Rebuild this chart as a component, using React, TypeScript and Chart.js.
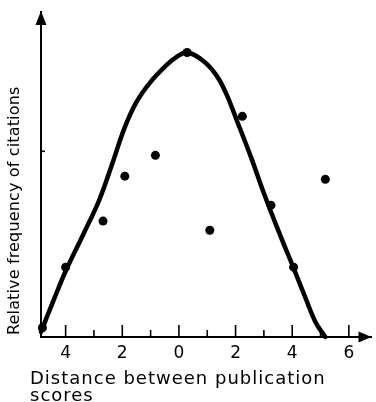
import { useEffect, useRef } from 'react';
import { Chart, registerables } from 'chart.js';

Chart.register(...registerables);

// Observed points (distance, relative frequency)
const observedX = [-4.82, -4.0, -2.68, -1.91, -0.83, 0.29, 1.09, 2.24, 3.25, 4.05, 5.17];
const observedY = [0.05, 0.376, 0.624, 0.866, 0.978, 1.532, 0.575, 1.188, 0.71, 0.376, 0.849];

// Fitted curve
const curveX = [-4.87, -4.42, -3.97, -3.37, -2.82, -2.36, -1.91, -1.5, -1.02, -0.45, -0.08, 0.28, 0.84, 1.3, 1.65, 2.07, 2.56, 3.04, 3.56, 4.05, 4.47, 4.82, 5.17];
const curveY = [0.027, 0.2, 0.365, 0.555, 0.735, 0.93, 1.13, 1.265, 1.37, 1.462, 1.508, 1.532, 1.489, 1.414, 1.317, 1.156, 0.962, 0.758, 0.554, 0.371, 0.21, 0.081, 0];

const yTickValues = [1];
const xTitleLines = ['Distance between publication', 'scores'];
const yTitle = 'Relative frequency of citations';

const FONT = '"DejaVu Sans", sans-serif';

const decor = {
  id: 'decor',
  afterDraw(chart: any) {
    const { ctx, chartArea: a, scales } = chart;
    const x = scales.x;
    const y = scales.y;
    ctx.save();
    ctx.fillStyle = '#000';
    ctx.strokeStyle = '#000';
    ctx.lineWidth = 1.6;
    // inward x tick marks
    x.ticks.forEach((t: any) => {
      const v = t.value;
      if (Math.abs(v - Math.round(v)) > 1e-6) return;
      const px = x.getPixelForValue(v);
      const len = Math.round(v) % 2 === 0 ? 12 : 7;
      ctx.beginPath();
      ctx.moveTo(px, a.bottom);
      ctx.lineTo(px, a.bottom - len);
      ctx.stroke();
    });
    // inward y tick marks
    yTickValues.forEach((v) => {
      const py = y.getPixelForValue(v);
      ctx.beginPath();
      ctx.moveTo(a.left, py);
      ctx.lineTo(a.left + 4, py);
      ctx.stroke();
    });
    // arrowheads
    ctx.beginPath();
    ctx.moveTo(a.left, a.top - 1);
    ctx.lineTo(a.left - 5.5, a.top + 13);
    ctx.lineTo(a.left + 5.5, a.top + 13);
    ctx.closePath();
    ctx.fill();
    ctx.beginPath();
    ctx.moveTo(a.right, a.bottom);
    ctx.lineTo(a.right - 13, a.bottom - 5.5);
    ctx.lineTo(a.right - 13, a.bottom + 5.5);
    ctx.closePath();
    ctx.fill();
    // axis titles
    ctx.font = '18px ' + FONT;
    (ctx as any).letterSpacing = '1px';
    ctx.textAlign = 'left';
    ctx.textBaseline = 'middle';
    ctx.fillText(xTitleLines[0], a.left - 11, a.bottom + 42);
    ctx.fillText(xTitleLines[1], a.left - 11, a.bottom + 59);
    ctx.font = '16px ' + FONT;
    (ctx as any).letterSpacing = '0.15px';
    ctx.translate(15, a.bottom - 2);
    ctx.rotate(-Math.PI / 2);
    ctx.fillText(yTitle, 0, 0);
    (ctx as any).letterSpacing = '0px';
    ctx.restore();
  },
};

export default function App() {
  const ref = useRef<HTMLCanvasElement>(null);
  useEffect(() => {
    if (!ref.current) return;
    const chart = new Chart(ref.current, {
      type: 'scatter',
      data: {
        datasets: [
          {
            label: 'curve',
            data: curveX.map((v, i) => ({ x: v, y: curveY[i] })),
            showLine: true,
            borderColor: '#000',
            borderWidth: 4.5,
            pointRadius: 0,
            tension: 0.4,
            borderCapStyle: 'round',
            borderJoinStyle: 'round',
            clip: false,
          } as any,
          {
            label: 'observed',
            data: observedX.map((v, i) => ({ x: v, y: observedY[i] })),
            showLine: false,
            backgroundColor: '#000',
            borderColor: '#000',
            pointRadius: 4.5,
            pointBorderWidth: 0,
            clip: false,
          } as any,
        ],
      },
      options: {
        animation: false,
        responsive: false,
        layout: { padding: { top: 12, left: 0, right: 0, bottom: 0 } },
        plugins: { legend: { display: false }, tooltip: { enabled: false } },
        scales: {
          x: {
            type: 'linear',
            min: -4.87,
            max: 6.8,
            afterFit: (s: any) => { s.height = 65; },
            grid: { display: false, drawTicks: false },
            border: { display: true, color: '#000', width: 2 },
            ticks: {
              stepSize: 1,
              includeBounds: false,
              autoSkip: false,
              maxRotation: 0,
              padding: 6,
              color: '#000',
              font: { family: FONT, size: 17 },
              callback: (v: any) => {
                const n = Number(v);
                return Number.isInteger(n) && n % 2 === 0 ? String(Math.abs(n)) : '';
              },
            },
          },
          y: {
            type: 'linear',
            min: 0,
            max: 1.75,
            afterFit: (s: any) => { s.width = 41; },
            grid: { display: false, drawTicks: false },
            border: { display: true, color: '#000', width: 2 },
            ticks: { display: false },
          },
        },
      },
      plugins: [decor],
    });
    return () => chart.destroy();
  }, []);
  return (
    <div style={{ position: 'absolute', left: 0, top: 0, width: 376, height: 402, background: '#fff' }}>
      <canvas ref={ref} width={376} height={402} style={{ width: 376, height: 402, display: 'block' }} />
    </div>
  );
}
